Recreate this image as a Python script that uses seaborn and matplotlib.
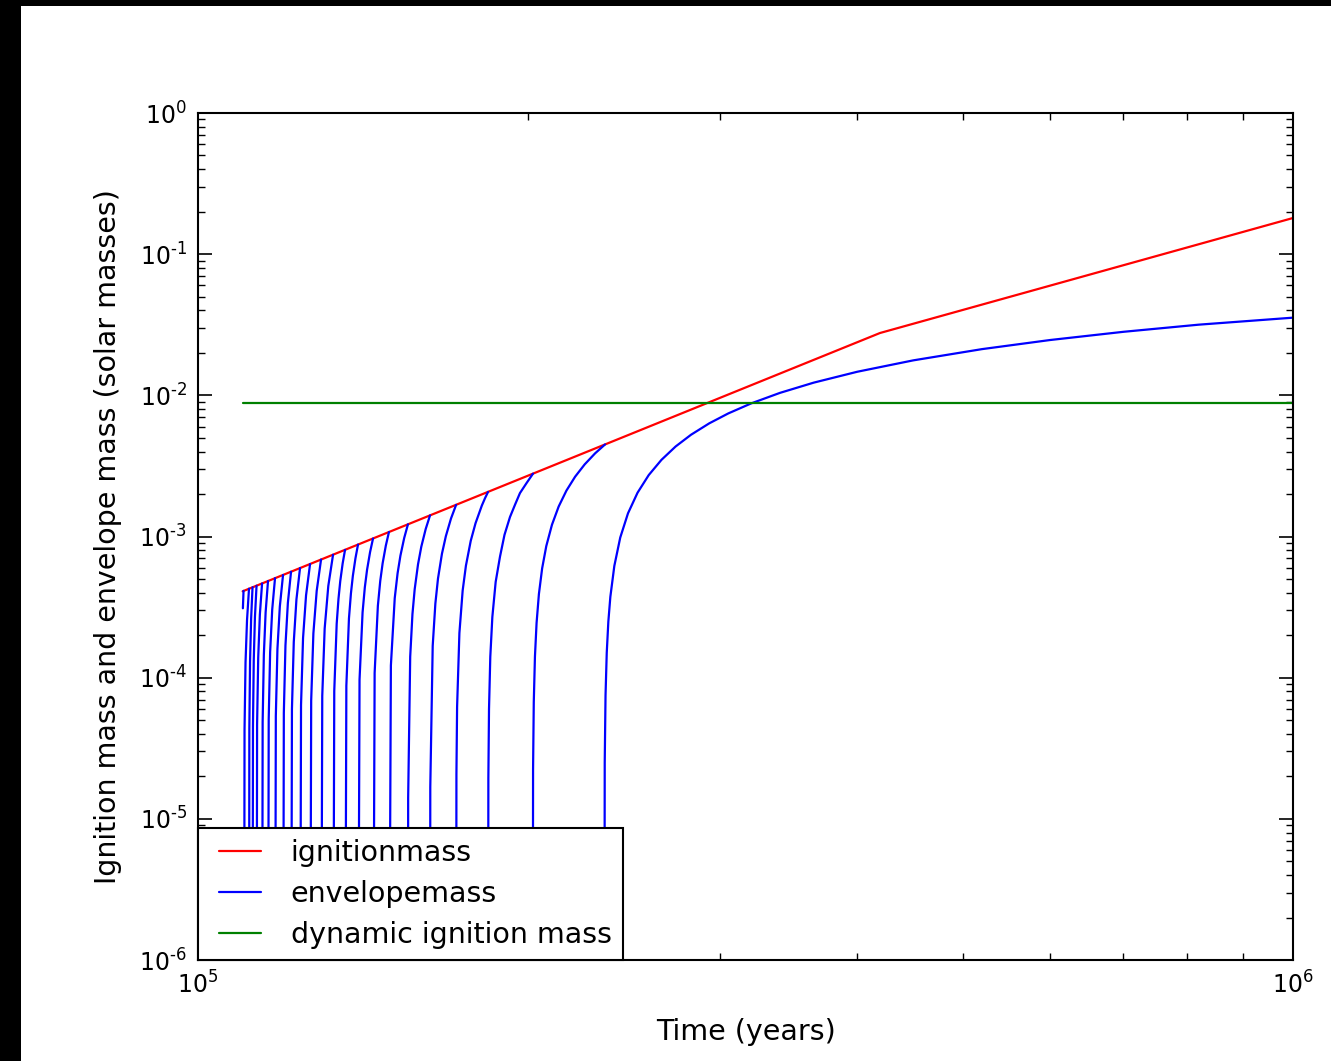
import pandas as pd
import matplotlib
matplotlib.use('Agg')
import matplotlib.pyplot as plt
from matplotlib.lines import Line2D
from matplotlib.patches import Rectangle
from matplotlib.ticker import NullFormatter, FuncFormatter
from matplotlib.legend_handler import HandlerLine2D
import numpy as np
import seaborn as sns

# times are in units of 1e5 years, masses in solar masses
ign_t = [1.0985, 4.196, 10.0]
ign_m = [4.09e-4, 2.764e-2, 0.1804]

dyn_t = [1.0985, 10.0]
dyn_m = [8.78e-3, 8.78e-3]

# envelope mass, one list per accretion cycle
env_t = [
    [1.0990, 1.1005],
    [1.1016, 1.1028, 1.1051, 1.1086, 1.1132],
    [1.1132, 1.1140, 1.1157, 1.1182, 1.1215],
    [1.1215, 1.1225, 1.1244, 1.1272, 1.1310],
    [1.1310, 1.1323, 1.1350, 1.1389, 1.1442],
    [1.1442, 1.1456, 1.1485, 1.1528, 1.1586],
    [1.1586, 1.1603, 1.1638, 1.1689, 1.1758],
    [1.1758, 1.1778, 1.1818, 1.1878, 1.1958],
    [1.1958, 1.1978, 1.2019, 1.2080, 1.2161],
    [1.2161, 1.2184, 1.2231, 1.2300, 1.2393],
    [1.2393, 1.2419, 1.2472, 1.2551, 1.2657],
    [1.2657, 1.2687, 1.2746, 1.2835, 1.2953],
    [1.2953, 1.2986, 1.3052, 1.3152, 1.3284],
    [1.3284, 1.3318, 1.3386, 1.3437, 1.3487, 1.3555, 1.3623],
    [1.3623, 1.3661, 1.3736, 1.3793, 1.3849, 1.3925, 1.4000],
    [1.4000, 1.4045, 1.4135, 1.4202, 1.4269, 1.4359, 1.4449],
    [1.4449, 1.4498, 1.4597, 1.4670, 1.4744, 1.4843, 1.4941],
    [1.4941, 1.5002, 1.5124, 1.5215, 1.5306, 1.5428, 1.5550],
    [1.5550, 1.5557, 1.5624, 1.5698, 1.5772, 1.5883, 1.5993, 1.6141, 1.6289],
    [1.6289, 1.6298, 1.6381, 1.6473, 1.6564, 1.6702, 1.6840, 1.7023, 1.7207],
    [1.7207, 1.7219, 1.7243, 1.7327, 1.7446, 1.7566, 1.7745, 1.7925, 1.8164, 1.8283, 1.8403],
    [1.8403, 1.8415, 1.8440, 1.8490, 1.8570, 1.8700, 1.8871, 1.9050, 1.9272, 1.9480,
     1.9680, 1.9950, 2.0228],
    [2.0215, 2.0230, 2.0260, 2.0310, 2.0380, 2.0480, 2.0620, 2.0800, 2.1050, 2.1350,
     2.1700, 2.2100, 2.2550, 2.3050, 2.3535],
    [2.3500, 2.3520, 2.3560, 2.3620, 2.3700, 2.3800, 2.4000, 2.4300, 2.4700, 2.5200,
     2.5800, 2.6500, 2.7300, 2.8200, 2.9300, 3.0500, 3.2000, 3.4000, 3.6500, 4.0000,
     4.5000, 5.2000, 6.0000, 7.0000, 8.2000, 10.000],
]
env_m = [
    [3.1e-4, 4.12e-4],
    [1e-7, 4.27e-5, 1.28e-4, 2.56e-4, 4.27e-4],
    [1e-7, 4.37e-5, 1.31e-4, 2.62e-4, 4.37e-4],
    [1e-7, 4.48e-5, 1.34e-4, 2.69e-4, 4.48e-4],
    [1e-7, 4.65e-5, 1.39e-4, 2.79e-4, 4.65e-4],
    [1e-7, 4.84e-5, 1.45e-4, 2.90e-4, 4.84e-4],
    [1e-7, 5.07e-5, 1.52e-4, 3.04e-4, 5.07e-4],
    [1e-7, 5.34e-5, 1.60e-4, 3.20e-4, 5.34e-4],
    [1e-7, 5.63e-5, 1.69e-4, 3.38e-4, 5.63e-4],
    [1e-7, 5.98e-5, 1.79e-4, 3.59e-4, 5.98e-4],
    [1e-7, 6.38e-5, 1.91e-4, 3.83e-4, 6.38e-4],
    [1e-7, 6.87e-5, 2.06e-4, 4.12e-4, 6.87e-4],
    [1e-7, 7.43e-5, 2.23e-4, 4.46e-4, 7.43e-4],
    [1e-7, 8.04e-5, 2.41e-4, 3.62e-4, 4.83e-4, 6.44e-4, 8.04e-4],
    [1e-7, 8.77e-5, 2.63e-4, 3.95e-4, 5.26e-4, 7.01e-4, 8.77e-4],
    [1e-7, 9.68e-5, 2.90e-4, 4.36e-4, 5.81e-4, 7.74e-4, 9.68e-4],
    [1e-7, 1.08e-4, 3.23e-4, 4.84e-4, 6.46e-4, 8.61e-4, 1.076e-3],
    [1e-7, 1.22e-4, 3.66e-4, 5.49e-4, 7.32e-4, 9.76e-4, 1.220e-3],
    [1e-7, 1.41e-5, 1.41e-4, 2.82e-4, 4.23e-4, 6.35e-4, 8.47e-4, 1.129e-3, 1.411e-3],
    [1e-7, 1.68e-5, 1.68e-4, 3.35e-4, 5.03e-4, 7.54e-4, 1.005e-3, 1.340e-3, 1.675e-3],
    [1e-7, 2.07e-5, 6.2e-5, 2.07e-4, 4.14e-4, 6.21e-4, 9.32e-4, 1.242e-3, 1.656e-3,
     1.863e-3, 2.070e-3],
    [1e-7, 1.95e-5, 5.99e-5, 1.406e-4, 2.693e-4, 4.767e-4, 7.2e-4, 1.027e-3, 1.375e-3,
     1.685e-3, 2.03e-3, 2.384e-3, 2.788e-3],
    [1e-7, 2.23e-5, 6.69e-5, 1.41e-4, 2.443e-4, 3.912e-4, 5.95e-4, 8.55e-4, 1.211e-3,
     1.632e-3, 2.114e-3, 2.652e-3, 3.243e-3, 3.884e-3, 4.487e-3],
    [1e-7, 2.5e-5, 7.5e-5, 1.50e-4, 2.50e-4, 3.74e-4, 6.19e-4, 9.83e-4, 1.460e-3, 2.042e-3,
     2.723e-3, 3.491e-3, 4.340e-3, 5.258e-3, 6.331e-3, 7.446e-3, 8.765e-3, 1.041e-2,
     1.230e-2, 1.469e-2, 1.769e-2, 2.125e-2, 2.465e-2, 2.818e-2, 3.166e-2, 3.55e-2],
]

labels = ['ignitionmass', 'envelopemass', 'dynamic ignition mass']
colors = ['#ff0000', '#0000ff', '#008000']

sns.set_style('ticks', {'text.color': 'black', 'axes.labelcolor': 'black',
                        'xtick.color': 'black', 'ytick.color': 'black',
                        'axes.edgecolor': 'black'})
plt.rcParams['font.family'] = ['DejaVu Sans']
plt.rcParams['axes.unicode_minus'] = False
plt.rcParams['mathtext.default'] = 'regular'

ign = pd.DataFrame({'t': [v * 1e5 for v in ign_t], 'm': ign_m})
dyn = pd.DataFrame({'t': [v * 1e5 for v in dyn_t], 'm': dyn_m})
rows = []
for i, (ts, ms) in enumerate(zip(env_t, env_m)):
    for t, m in zip(ts, ms):
        rows.append({'cycle': i, 't': t * 1e5, 'm': m})
env = pd.DataFrame(rows)

fig = plt.figure(figsize=(13.31, 10.61), dpi=100, facecolor='black')
fig.add_artist(Rectangle((21 / 1331, 0), 1, 1055 / 1061, transform=fig.transFigure,
                         facecolor='white', edgecolor='none', zorder=-1))
ax = fig.add_axes([198 / 1331, 101 / 1061, 1095 / 1331, 847 / 1061])
ax.set_xscale('log')
ax.set_yscale('log')

sns.lineplot(data=ign, x='t', y='m', color=colors[0], lw=1.6, sort=False, ax=ax, legend=False)
sns.lineplot(data=env, x='t', y='m', units='cycle', estimator=None, color=colors[1],
             lw=1.6, sort=False, ax=ax, legend=False)
sns.lineplot(data=dyn, x='t', y='m', color=colors[2], lw=1.6, sort=False, ax=ax, legend=False)

ax.set_xlim(1e5, 1e6)
ax.set_ylim(1e-6, 1e0)
ax.set_xlabel('Time (years)', fontsize=20.5, labelpad=14)
ax.set_ylabel('Ignition mass and envelope mass (solar masses)', fontsize=20.5, labelpad=12)


# old-style exponent labels with a short hyphen instead of a minus sign
def power_label(v, pos):
    e = int(round(np.log10(v)))
    return r'$10^{%s}$' % str(e).replace('-', '\u2010')


ax.xaxis.set_major_formatter(FuncFormatter(power_label))
ax.yaxis.set_major_formatter(FuncFormatter(power_label))
ax.xaxis.set_minor_formatter(NullFormatter())
ax.yaxis.set_minor_formatter(NullFormatter())

for s in ax.spines.values():
    s.set_linewidth(1.5)
    s.set_color('black')
ax.tick_params(which='both', direction='in', top=True, right=True, color='black')
ax.tick_params(which='major', length=10, width=1.2, labelsize=17, pad=8)
ax.tick_params(which='minor', length=5, width=1.0)

# legend handles drawn by hand, one entry per series
handles = [Line2D([], [], color=c, lw=1.6) for c in colors]
leg = ax.legend(handles, labels, loc='lower left', borderaxespad=0, fontsize=20.5,
                fancybox=False, framealpha=1, edgecolor='black', handlelength=2.15,
                handletextpad=0.7, labelspacing=0.45, borderpad=0.4,
                handler_map={Line2D: HandlerLine2D(marker_pad=0.34, numpoints=2)})
leg.get_frame().set_linewidth(1.5)

fig.savefig('out.png', dpi=100, facecolor=fig.get_facecolor())
